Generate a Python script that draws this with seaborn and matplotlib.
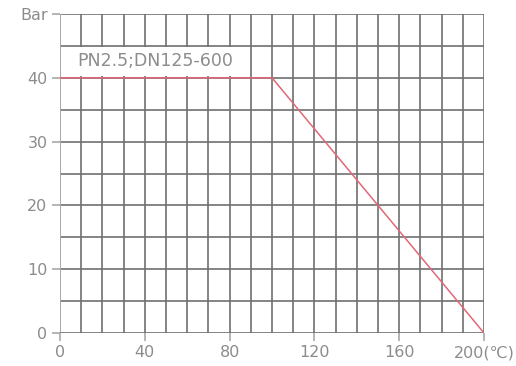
import matplotlib

matplotlib.use("Agg")
import matplotlib.pyplot as plt
import numpy as np
import pandas as pd
import seaborn as sns

# pressure-temperature rating curve
temps = [0, 100, 200]
pressure = [40, 40, 0]
x_ticks = [0, 40, 80, 120, 160, 200]
x_labels = ["0", "40", "80", "120", "160", "200(℃)"]
y_ticks = [0, 10, 20, 30, 40, 50]
y_labels = ["0", "10", "20", "30", "40", "Bar"]
label_text = "PN2.5;DN125-600"

GRID = "#707070"
AXIS = "#a8a8a8"
TEXT = "#8c8c8c"
LINE = "#e06878"

sns.set_style("white")
plt.rcParams["font.family"] = ["DejaVu Sans"]

df = pd.DataFrame({"temp": temps, "pressure": pressure})

fig = plt.figure(figsize=(5.16, 3.66), dpi=100)
ax = fig.add_axes([0.1163, 0.0902, 0.8217, 0.8715])

# grid every 10 degC / 5 bar (axis lines themselves are lighter)
for xv in np.arange(10, 201, 10):
    ax.axvline(xv, color=GRID, lw=1.2, zorder=1)
for yv in np.arange(5, 51, 5):
    ax.axhline(yv, color=GRID, lw=1.2, zorder=1)
ax.axvline(0, color=AXIS, lw=1.4, zorder=1)
ax.axhline(0, color=GRID, lw=1.2, zorder=1)

sns.lineplot(data=df, x="temp", y="pressure", color=LINE, lw=1.1, ax=ax, zorder=3)

ax.text(8, 42.6, label_text, fontsize=12.5, color=TEXT, va="center", ha="left",
        bbox=dict(facecolor="white", edgecolor="none", pad=4), zorder=4)

ax.set_xlim(0, 200)
ax.set_ylim(0, 50)
ax.set_xticks(x_ticks)
ax.set_xticklabels(x_labels)
ax.set_yticks(y_ticks)
ax.set_yticklabels(y_labels)
ax.set_xlabel("")
ax.set_ylabel("")
ax.tick_params(axis="both", length=6, width=1.2, color=AXIS, labelcolor=TEXT,
               labelsize=11.5, direction="out", pad=3)
ax.tick_params(axis="both", bottom=True, left=True)
for s in ax.spines.values():
    s.set_visible(False)

fig.savefig("out.png", dpi=100)
